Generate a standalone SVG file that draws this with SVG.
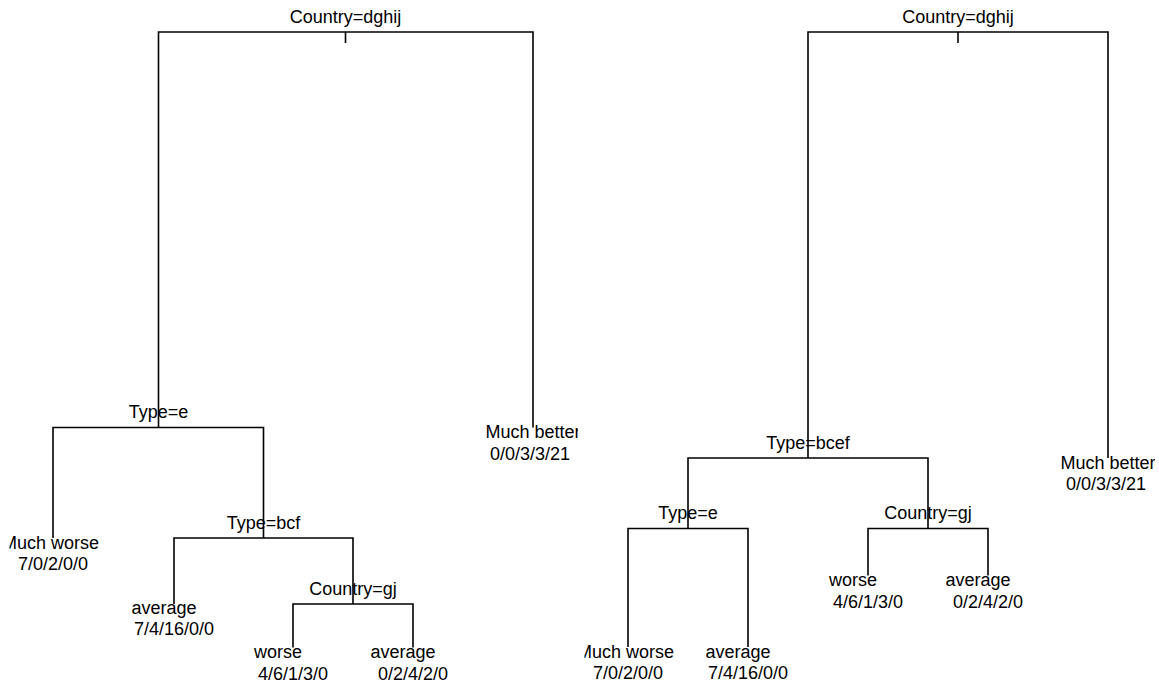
<svg xmlns="http://www.w3.org/2000/svg" width="1159" height="684" viewBox="0 0 1159 684">
<style>
.lbl{font-family:"Liberation Sans",Arial,Helvetica,sans-serif;font-size:18px;text-anchor:middle;fill:#000}
.edge{fill:none;stroke:#000;stroke-width:1.6}
</style>
<defs>
<clipPath id="clipL"><rect x="9.5" y="0" width="568.5" height="684"/></clipPath>
<clipPath id="clipR"><rect x="584.5" y="0" width="570.5" height="684"/></clipPath>
</defs>
<rect width="1159" height="684" fill="#fff"/>
<g id="treeLeft" clip-path="url(#clipL)">
<g id="connectorsL">
<path class="edge" d="M158.5 427.5V32H533V427.5"/>
<path class="edge" d="M345.5 32V43"/>
<path class="edge" d="M53 538V427.5H263.5V538"/>
<path class="edge" d="M174 604V538H353V604"/>
<path class="edge" d="M293 647.5V604H413V647.5"/>
</g>
<g id="L_root"><text class="lbl" x="345.5" y="22.5">Country=dghij</text></g>
<g id="L_typeE"><text class="lbl" x="158.5" y="418">Type=e</text></g>
<g id="L_typeBcf"><text class="lbl" x="263.5" y="528.5">Type=bcf</text></g>
<g id="L_countryGj"><text class="lbl" x="353" y="594.5">Country=gj</text></g>
<g id="L_leafMuchBetter"><text class="lbl" x="533" y="438">Much better</text><text class="lbl" x="530" y="459.5">0/0/3/3/21</text></g>
<g id="L_leafMuchWorse"><text class="lbl" x="50.5" y="548.5">Much worse</text><text class="lbl" x="53" y="570">7/0/2/0/0</text></g>
<g id="L_leafAverage1"><text class="lbl" x="164" y="614">average</text><text class="lbl" x="174" y="635">7/4/16/0/0</text></g>
<g id="L_leafWorse"><text class="lbl" x="278" y="658">worse</text><text class="lbl" x="293" y="679.5">4/6/1/3/0</text></g>
<g id="L_leafAverage2"><text class="lbl" x="403" y="658">average</text><text class="lbl" x="413" y="679.5">0/2/4/2/0</text></g>
</g>
<g id="treeRight" clip-path="url(#clipR)">
<g id="connectorsR">
<path class="edge" d="M808 458V32H1108V458"/>
<path class="edge" d="M958 32V43"/>
<path class="edge" d="M688 528.5V458H928V528.5"/>
<path class="edge" d="M628 647V528.5H748V647"/>
<path class="edge" d="M868 575.5V528.5H988V575.5"/>
</g>
<g id="R_root"><text class="lbl" x="958" y="22.5">Country=dghij</text></g>
<g id="R_typeBcef"><text class="lbl" x="808" y="448.5">Type=bcef</text></g>
<g id="R_typeE"><text class="lbl" x="688" y="519">Type=e</text></g>
<g id="R_countryGj"><text class="lbl" x="928" y="519">Country=gj</text></g>
<g id="R_leafMuchBetter"><text class="lbl" x="1108" y="468.5">Much better</text><text class="lbl" x="1106" y="490">0/0/3/3/21</text></g>
<g id="R_leafWorse"><text class="lbl" x="853" y="586">worse</text><text class="lbl" x="868" y="607.5">4/6/1/3/0</text></g>
<g id="R_leafAverage2"><text class="lbl" x="978" y="586">average</text><text class="lbl" x="988" y="607.5">0/2/4/2/0</text></g>
<g id="R_leafMuchWorse"><text class="lbl" x="625.5" y="657.5">Much worse</text><text class="lbl" x="628" y="679">7/0/2/0/0</text></g>
<g id="R_leafAverage1"><text class="lbl" x="738" y="657.5">average</text><text class="lbl" x="748" y="679">7/4/16/0/0</text></g>
</g>
</svg>
